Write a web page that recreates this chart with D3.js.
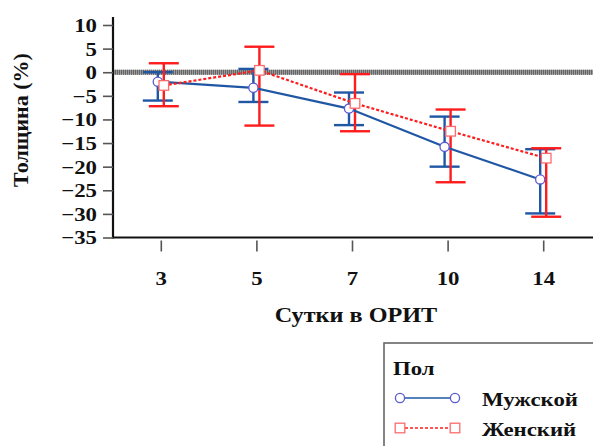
<!DOCTYPE html>
<html>
<head>
<meta charset="utf-8">
<script src="https://cdn.jsdelivr.net/npm/d3@7"></script>
<style>
  body { margin: 0; background: #fff; }
</style>
</head>
<body>
<div id="chart"></div>
<script>
// Сутки в ОРИТ
var days = ['3', '5', '7', '10', '14'];
// Мужской
var maleMean = [-2.0, -3.3, -7.7, -15.8, -22.7];
var maleLo = [-6.0, -6.3, -11.2, -20.0, -29.9];
var maleHi = [0.0, 0.7, -4.3, -9.4, -16.3];
// Женский
var femaleMean = [-2.8, 0.4, -6.6, -12.5, -18.2];
var femaleLo = [-7.2, -11.3, -12.5, -23.3, -30.6];
var femaleHi = [1.9, 5.4, -0.4, -7.9, -16.1];
var yTicks = [10, 5, 0, -5, -10, -15, -20, -25, -30, -35];

var width = 593, height = 446;
var stretch = 1.2;
var font = '"Liberation Serif", "Times New Roman", serif';

var svg = d3.select('#chart').append('svg')
    .attr('width', width)
    .attr('height', height);

var x = d3.scalePoint().domain(days).range([113, 591]).padding(0.5);
var y = d3.scaleLinear().domain([-35, 10]).range([237.5, 25]);

// set font and widen text like the source picture
function txt(sel, size, k) {
    sel.style('font-family', font).style('font-weight', 'bold').style('font-size', size + 'px').attr('fill', '#111');
    sel.each(function () {
        var w = this.getComputedTextLength();
        d3.select(this).attr('textLength', w * (k || stretch)).attr('lengthAdjust', 'spacingAndGlyphs');
    });
}

// zero line
svg.append('line')
    .attr('x1', x.range()[0]).attr('x2', width)
    .attr('y1', y(0)).attr('y2', y(0))
    .attr('stroke', '#9a9a9a')
    .attr('stroke-width', 5);
svg.append('line')
    .attr('x1', x.range()[0]).attr('x2', width)
    .attr('y1', y(0)).attr('y2', y(0))
    .attr('stroke', '#666')
    .attr('stroke-width', 5)
    .attr('stroke-dasharray', '1,1');

// y axis
var yAxis = svg.append('g')
    .attr('transform', `translate(${x.range()[0]},0)`)
    .call(d3.axisLeft(y).tickValues(yTicks).tickSize(10).tickPadding(6));
yAxis.select('.domain').attr('stroke', '#111').attr('stroke-width', 2.2)
    .attr('d', `M0,${y(10) - 8}V${y(-35) + 1}`);
yAxis.selectAll('.tick line').attr('stroke', '#555').attr('stroke-width', 1.6);
yAxis.selectAll('.tick text').attr('dy', '0.34em').call(txt, 19);

// x axis
var xAxis = svg.append('g')
    .attr('transform', `translate(0,${y(-35)})`)
    .call(d3.axisBottom(x).tickSize(14).tickPadding(20));
xAxis.select('.domain').attr('stroke', '#111').attr('stroke-width', 2.2)
    .attr('d', `M${x.range()[0]},0H${width}`);
xAxis.selectAll('.tick line').attr('stroke', '#555').attr('stroke-width', 1.6).attr('y1', 3);
xAxis.selectAll('.tick text').call(txt, 19);

// axis titles
svg.append('text')
    .attr('x', 356).attr('y', 322)
    .attr('text-anchor', 'middle')
    .text('Сутки в ОРИТ').call(txt, 22, 1.1);

svg.append('text')
    .attr('transform', 'translate(28,120) rotate(-90)')
    .attr('text-anchor', 'middle')
    .text('Толщина (%)').call(txt, 22, 1);

var series = [
    { mean: maleMean, lo: maleLo, hi: maleHi, dx: -3, line: '#1f57a5', mark: '#5a5ad0', dash: null, shape: 'circle' },
    { mean: femaleMean, lo: femaleLo, hi: femaleHi, dx: 3, line: '#ff1c1c', mark: '#ff6a6a', dash: '3,2', shape: 'square' }
];

var cap = 15;

series.forEach(function (s) {
    var g = svg.append('g');
    var idx = d3.range(days.length);
    var err = g.selectAll('g.err').data(idx).enter().append('g').attr('class', 'err')
        .attr('stroke', s.line).attr('stroke-width', 2.4).attr('fill', 'none');
    err.append('line')
        .attr('x1', i => x(days[i]) + s.dx).attr('x2', i => x(days[i]) + s.dx)
        .attr('y1', i => y(s.hi[i])).attr('y2', i => y(s.lo[i]));
    err.append('line')
        .attr('x1', i => x(days[i]) + s.dx - cap).attr('x2', i => x(days[i]) + s.dx + cap)
        .attr('y1', i => y(s.hi[i])).attr('y2', i => y(s.hi[i]));
    err.append('line')
        .attr('x1', i => x(days[i]) + s.dx - cap).attr('x2', i => x(days[i]) + s.dx + cap)
        .attr('y1', i => y(s.lo[i])).attr('y2', i => y(s.lo[i]));
});

series.forEach(function (s) {
    var idx = d3.range(days.length);
    var line = d3.line().x(i => x(days[i]) + s.dx).y(i => y(s.mean[i]));
    svg.append('path')
        .attr('d', line(idx))
        .attr('fill', 'none')
        .attr('stroke', s.line)
        .attr('stroke-width', 2.2)
        .attr('stroke-dasharray', s.dash);
});

function marker(sel, s, cx, cy) {
    if (s.shape === 'circle') {
        sel.append('circle').attr('cx', cx).attr('cy', cy).attr('r', 4.6)
            .attr('fill', '#fff').attr('stroke', s.mark).attr('stroke-width', 1.3);
    } else {
        sel.append('rect').attr('x', cx - 4.8).attr('y', cy - 4.8).attr('width', 9.6).attr('height', 9.6)
            .attr('fill', '#fff').attr('stroke', s.mark).attr('stroke-width', 1.3);
    }
}

series.forEach(function (s) {
    var g = svg.append('g');
    s.mean.forEach(function (v, i) {
        marker(g, s, x(days[i]) + s.dx, y(v));
    });
});

// legend
var legend = svg.append('g');
legend.append('rect')
    .attr('x', 384).attr('y', 343).attr('width', 300).attr('height', 200)
    .attr('fill', 'none').attr('stroke', '#666').attr('stroke-width', 1.6);
legend.append('text').attr('x', 393).attr('y', 375).text('Пол').call(txt, 19);

var names = ['Мужской', 'Женский'];
series.forEach(function (s, i) {
    var ly = 398 + i * 30;
    legend.append('line')
        .attr('x1', 400).attr('x2', 455).attr('y1', ly).attr('y2', ly)
        .attr('stroke', s.line).attr('stroke-width', 1.6).attr('stroke-dasharray', s.dash);
    var m = legend.append('g');
    marker(m, s, 400, ly);
    marker(m, s, 455, ly);
    legend.append('text').attr('x', 482).attr('y', ly + 8).text(names[i]).call(txt, 19);
});
</script>
</body>
</html>
